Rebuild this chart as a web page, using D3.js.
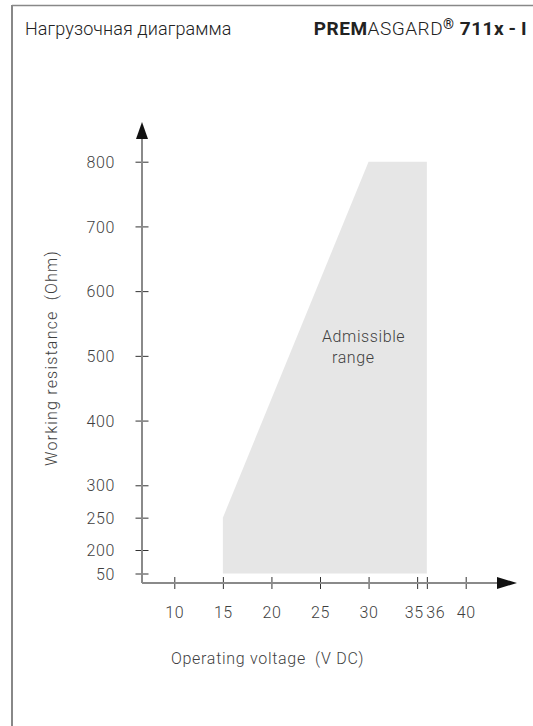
<!DOCTYPE html>
<html>
<head>
<meta charset="utf-8">
<script src="https://cdn.jsdelivr.net/npm/d3@7/dist/d3.min.js"></script>
<style>
  html, body { margin: 0; padding: 0; background: #fff; }
  svg { display: block; font-family: Roboto, "DejaVu Sans", sans-serif; }
  text { white-space: pre; }
</style>
</head>
<body>
<svg id="chart" width="533" height="726"></svg>
<script>
// ---- data ----
const xTicks = [10, 15, 20, 25, 30, 35, 36, 40];
const yTicks = [50, 200, 250, 300, 400, 500, 600, 700, 800];
// admissible range polygon: operating voltage (V DC) / working resistance (Ohm)
const rangeVoltage = [15, 15, 30, 36, 36];
const rangeResistance = [50, 250, 800, 800, 50];
const titleLeft = "Нагрузочная диаграмма";
const xTitle = "Operating voltage  (V DC)";
const yTitle = "Working resistance  (Ohm)";
const rangeLabel = ["Admissible", "range"];

// ---- layout ----
const svg = d3.select("#chart");
const origin = { x: 142, y: 583 };
const x = d3.scaleLinear().domain([10, 40]).range([174.3, 465.7]);
// broken axis: compressed lower segment 0-200
const y = d3.scaleLinear().domain([0, 50, 200, 800]).range([origin.y, 573.5, 550, 161.7]);

const textCol = "#3f3f3f";
const axisCol = "#8a8a8a";
const LS = "0.6px";

// frame (L-shape)
svg.append("line").attr("x1", 12).attr("y1", 5.5).attr("x2", 533).attr("y2", 5.5)
  .attr("stroke", "#888").attr("stroke-width", 1.5);
svg.append("line").attr("x1", 12).attr("y1", 5).attr("x2", 12).attr("y2", 726)
  .attr("stroke", "#888").attr("stroke-width", 2);

// header
svg.append("text").attr("x", 25).attr("y", 35).attr("font-size", 18).attr("font-weight", 300)
  .attr("letter-spacing", "0.1px").attr("fill", "#222").text(titleLeft);
const hdr = svg.append("text").attr("x", 527).attr("y", 35).attr("font-size", 19)
  .attr("text-anchor", "end").attr("fill", "#222").attr("letter-spacing", "0.5px");
hdr.append("tspan").attr("font-weight", "bold").text("PREM");
hdr.append("tspan").attr("font-weight", 300).text("ASGARD");
hdr.append("tspan").attr("font-size", 14).attr("dy", -6).attr("font-weight", "bold").text("®");
hdr.append("tspan").attr("dy", 6).attr("font-weight", "bold").text(" 711x\u2009-\u2009I");

// admissible range area
const pts = rangeVoltage.map((v, i) => [x(v), y(rangeResistance[i])]);
svg.append("path").attr("d", d3.line()(pts) + "Z").attr("fill", "#e6e6e6");

// range label
svg.append("text").attr("x", 322).attr("y", 342).attr("font-size", 16).attr("font-weight", 300)
  .attr("letter-spacing", LS).attr("fill", textCol).text(rangeLabel[0]);
svg.append("text").attr("x", 332).attr("y", 363).attr("font-size", 16).attr("font-weight", 300)
  .attr("letter-spacing", LS).attr("fill", textCol).text(rangeLabel[1]);

// x axis
const xAxis = d3.axisBottom(x).tickValues(xTicks).tickSize(6).tickPadding(0).tickFormat(d3.format("d"));
const gx = svg.append("g").attr("transform", `translate(0,${origin.y})`).call(xAxis);
gx.select(".domain").remove();
gx.selectAll(".tick line").attr("y1", -6).attr("y2", 6).attr("stroke", "#333");
gx.selectAll(".tick text").attr("y", 35).attr("dy", 0).attr("font-size", 16)
  .attr("font-family", "Roboto").attr("font-weight", 300).attr("letter-spacing", LS).attr("fill", textCol)
  .attr("text-anchor", d => d === 35 ? "end" : d === 36 ? "start" : "middle")
  .attr("dx", d => d === 35 ? 6 : d === 36 ? -1 : 0);
svg.append("line").attr("x1", origin.x).attr("x2", 500).attr("y1", origin.y).attr("y2", origin.y)
  .attr("stroke", axisCol).attr("stroke-width", 2);
svg.append("path").attr("d", `M497,${origin.y - 6}L517,${origin.y}L497,${origin.y + 6}Z`).attr("fill", "#111");

// y axis
const yAxis = d3.axisLeft(y).tickValues(yTicks).tickSize(6).tickPadding(0).tickFormat(d3.format("d"));
const gy = svg.append("g").attr("transform", `translate(${origin.x},0)`).call(yAxis);
gy.select(".domain").remove();
gy.selectAll(".tick line").attr("x1", -6.5).attr("x2", 6.5).attr("stroke", "#333");
gy.selectAll(".tick text").attr("x", -27).attr("dy", "0.35em").attr("font-size", 16)
  .attr("font-family", "Roboto").attr("font-weight", 300).attr("letter-spacing", LS).attr("fill", textCol);
svg.append("line").attr("x1", origin.x).attr("x2", origin.x).attr("y1", origin.y).attr("y2", 136)
  .attr("stroke", axisCol).attr("stroke-width", 2);
svg.append("path").attr("d", `M${origin.x - 6},139L${origin.x},122L${origin.x + 6},139Z`).attr("fill", "#111");

// axis titles
svg.append("text").attr("x", 171).attr("y", 664).attr("font-size", 16).attr("font-weight", 300)
  .attr("letter-spacing", "0.7px").attr("fill", textCol).text(xTitle);
svg.append("text").attr("transform", "translate(57,358) rotate(-90)").attr("text-anchor", "middle")
  .attr("font-size", 16).attr("font-weight", 300).attr("letter-spacing", "1.2px").attr("fill", textCol).text(yTitle);
</script>
</body>
</html>
